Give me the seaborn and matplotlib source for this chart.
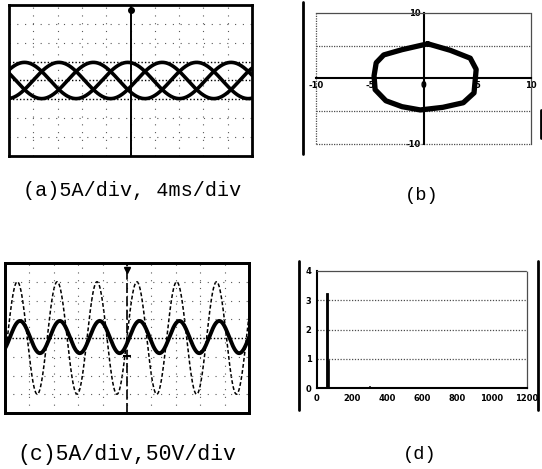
import numpy as np
import matplotlib
matplotlib.use("Agg")
import matplotlib.pyplot as plt
from matplotlib.lines import Line2D
import seaborn as sns

# ---------------- data ----------------
# (a) three-phase currents, 4 ms/div, 5 A/div
A_TIME_SPAN = [0, 40]            # ms, 10 divisions
A_AMPS = [4.8, 4.8, 4.8]         # A
A_PERIOD = 17.0                  # ms
A_PHASES = [36, -84, -204]       # deg

# (b) current vector locus (vertices of the hexagon-like path)
B_X = [0.4, 2.5, 4.35, 4.9, 4.8, 4.7, 3.7, 1.8, -0.3, -2.0, -3.5, -4.5, -4.6, -4.4, -3.7, -2.0, 0.4]
B_Y = [5.3, 4.3, 3.1, 1.4, -0.4, -2.2, -3.7, -4.4, -4.8, -4.3, -3.4, -1.7, 0.4, 2.4, 3.6, 4.4, 5.3]
B_XTICKS = [-10, -5, 0, 5, 10]
B_YTICKS = [-10, 10]

# (c) current (5 A/div) and voltage (50 V/div), x in divisions
C_SPAN = [0, 10]
C_PERIOD = 1.633                 # div
C_I_AMP, C_I_OFF, C_I_PEAK = 4.3, 0.25, 0.615   # A, A, div
C_V_AMP, C_V_PEAK = 150.0, 0.505                # V, div

# (d) harmonic spectrum
D_FREQ = [57, 67, 170, 285, 300, 420, 600, 650, 800, 1000, 1150]
D_AMP = [3.24, 0.95, 0.02, 0.03, 0.06, 0.02, 0.04, 0.03, 0.02, 0.03, 0.02]
D_XTICKS = [0, 200, 400, 600, 800, 1000, 1200]
D_YTICKS = [0, 1, 2, 3, 4]

CAPTIONS = ["(a)5A/div, 4ms/div", "(b)", "(c)5A/div,50V/div", "(d)"]

W, H = 542, 469
sns.set_style("white")
plt.rcParams["font.family"] = ["DejaVu Sans"]
plt.rcParams["text.color"] = "k"
plt.rcParams["xtick.color"] = "k"
plt.rcParams["ytick.color"] = "k"

fig = plt.figure(figsize=(W / 100, H / 100), dpi=100)


def px_rect(x0, y0, x1, y1):
    return [x0 / W, 1 - y1 / H, (x1 - x0) / W, (y1 - y0) / H]


def scope_grid(ax, xs, ys, dense):
    for x in xs:
        ax.axvline(x, color="0.35", lw=0.8, ls=(0, (1, 6)), zorder=1)
    for y in ys:
        ax.axhline(y, color="0.35", lw=0.8, ls=(0, (1, 6)), zorder=1)
    for y in dense:
        ax.axhline(y, color="k", lw=1.0, ls=(0, (1, 1.5)), zorder=1)


# ---------------- (a) ----------------
ax = fig.add_axes(px_rect(9, 5, 252, 156))
t = np.linspace(A_TIME_SPAN[0], A_TIME_SPAN[1], 900)
for amp, ph in zip(A_AMPS, A_PHASES):
    i = amp * np.sin(2 * np.pi * t / A_PERIOD + np.radians(ph))
    sns.lineplot(x=t, y=i, ax=ax, color="k", lw=2.6, zorder=3)
ax.set_xlim(*A_TIME_SPAN)
ax.set_ylim(-20, 20)
scope_grid(ax, np.arange(4, 40, 4), [-15, -10, 10, 15], [-5, 0, 5])
ax.axvline(20, color="k", lw=1.4, zorder=2)
ax.plot([20], [18.7], "o", color="k", ms=4, zorder=4)
ax.set_xticks([])
ax.set_yticks([])
for s in ax.spines.values():
    s.set_linewidth(2)
    s.set_color("k")

# ---------------- (b) ----------------
ax = fig.add_axes(px_rect(316, 13, 531, 144))
sns.lineplot(x=B_X, y=B_Y, ax=ax, sort=False, estimator=None, color="k",
             lw=3.8, zorder=3)
ax.set_xlim(-10, 10)
ax.set_ylim(-10, 10)
ax.spines["left"].set_position(("data", 0))
ax.spines["bottom"].set_position(("data", 0))
for side in ["left", "bottom"]:
    ax.spines[side].set_linewidth(1.5)
    ax.spines[side].set_color("k")
for side in ["top", "right"]:
    ax.spines[side].set_linestyle((0, (1, 1)))
    ax.spines[side].set_linewidth(0.9)
    ax.spines[side].set_color("0.3")
ax.axhline(-10, color="0.3", lw=0.9, ls=(0, (1, 1)), clip_on=False)
ax.axvline(-10, color="0.3", lw=0.9, ls=(0, (1, 1)), clip_on=False)
for y in [-5, 5]:
    ax.axhline(y, color="0.3", lw=0.9, ls=(0, (1, 1)), zorder=1)
ax.set_xticks(B_XTICKS)
ax.set_xticklabels([str(v) for v in B_XTICKS], fontsize=6, fontweight="bold")
ax.set_yticks(B_YTICKS)
ax.set_yticklabels([str(v) for v in B_YTICKS], fontsize=6, fontweight="bold")
ax.tick_params(length=0, pad=2)

# ---------------- (c) ----------------
ax = fig.add_axes(px_rect(5, 263, 249, 413))
tc = np.linspace(C_SPAN[0], C_SPAN[1], 900)
cur = C_I_OFF + C_I_AMP * np.cos(2 * np.pi * (tc - C_I_PEAK) / C_PERIOD)
vol = C_V_AMP * np.cos(2 * np.pi * (tc - C_V_PEAK) / C_PERIOD)
ax2 = ax.twinx()
sns.lineplot(x=tc, y=vol, ax=ax2, color="k", lw=1.1, zorder=2)
ax2.lines[-1].set_linestyle((0, (2.5, 1.5)))
sns.lineplot(x=tc, y=cur, ax=ax, color="k", lw=2.8, zorder=3)
ax.set_zorder(ax2.get_zorder() + 1)
ax.patch.set_visible(False)
ax.set_xlim(*C_SPAN)
ax.set_ylim(-20, 20)
ax2.set_ylim(-200, 200)
scope_grid(ax, np.arange(1, 10), [-15, -10, -5, 5, 10, 15], [0])
ax.axvline(5, color="k", lw=1.2, ls=(0, (6, 2)), zorder=2)
ax.plot([5], [18.1], "v", color="k", ms=5, zorder=4)
ax.plot([5], [-4.9], "_", color="k", ms=6, mew=1.5, zorder=4)
for a in (ax, ax2):
    a.set_xticks([])
    a.set_yticks([])
    for s in a.spines.values():
        s.set_linewidth(2)
        s.set_color("k")

# ---------------- (d) ----------------
ax = fig.add_axes(px_rect(317, 271, 527, 388))
ax.bar(D_FREQ[:1], D_AMP[:1], width=12, color="k", edgecolor="k", lw=0.6, zorder=3)
ax.bar(D_FREQ[1:], D_AMP[1:], width=5, color="k", edgecolor="k", lw=0.5, zorder=3)
ax.set_xlim(0, 1200)
ax.set_ylim(0, 4)
for y in [1, 2, 3]:
    ax.axhline(y, color="0.3", lw=0.9, ls=(0, (1, 1.3)), zorder=1)
for side in ["left", "bottom"]:
    ax.spines[side].set_linewidth(1.5)
    ax.spines[side].set_color("k")
for side in ["top", "right"]:
    ax.spines[side].set_linestyle((0, (1, 1)))
    ax.spines[side].set_linewidth(0.9)
    ax.spines[side].set_color("0.3")
ax.set_xticks(D_XTICKS)
ax.set_xticklabels([str(v) for v in D_XTICKS], fontsize=6, fontweight="bold")
ax.set_yticks(D_YTICKS)
ax.set_yticklabels([str(v) for v in D_YTICKS], fontsize=6, fontweight="bold")
ax.tick_params(length=0, pad=4)

# scan frame lines
for x, y0, y1 in [(303, 2, 154), (299, 261, 410), (538, 261, 410), (541, 110, 138)]:
    fig.add_artist(Line2D([x / W, x / W], [1 - y0 / H, 1 - y1 / H], color="k", lw=2))

# captions
cap_pos = [(132, 190, 14.5), (422, 195, 13.5), (127, 454, 15.5), (420, 454, 13.5)]
for txt, (x, y, fs) in zip(CAPTIONS, cap_pos):
    fig.text(x / W, 1 - y / H, txt, ha="center", va="center", fontsize=fs,
             color="k", family=["Liberation Mono", "DejaVu Sans Mono"])

fig.savefig("out.png", dpi=100)
